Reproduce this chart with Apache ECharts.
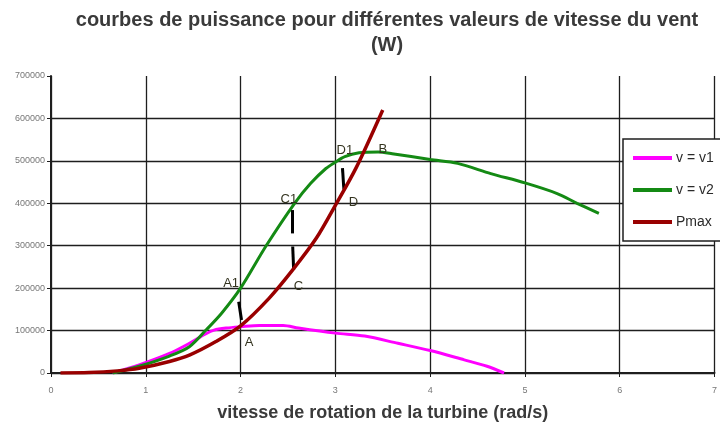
<!DOCTYPE html>
<html>
<head>
<meta charset="utf-8">
<script src="https://cdn.jsdelivr.net/npm/echarts@6/dist/echarts.min.js"></script>
<style>
  html, body { margin: 0; padding: 0; background: #fff; }
  #chart { width: 720px; height: 427px; }
</style>
</head>
<body>
<div id="chart"></div>
<script>
// Rotation speed (rad/s) and power (W) samples for each curve
const v1X = [0.65, 0.93, 1.25, 1.46, 1.63, 1.72, 1.85, 2.0, 2.2, 2.45, 2.61, 3.0, 3.31, 3.66, 4.0, 4.36, 4.6, 4.78];
const v1Y = [0, 19000, 46000, 70000, 92000, 101000, 106000, 109000, 112000, 112000, 106000, 94000, 87000, 70000, 53000, 31000, 16000, 0];

const v2X = [0.65, 0.93, 1.25, 1.46, 1.63, 1.8, 2.0, 2.27, 2.57, 2.74, 2.9, 3.0, 3.1, 3.25, 3.45, 3.6, 4.0, 4.29, 4.64, 5.0, 5.34, 5.55, 5.78];
const v2Y = [0, 16000, 40000, 62000, 100000, 141000, 200000, 300000, 400000, 447000, 482000, 497000, 510000, 519000, 521000, 517000, 503000, 494000, 470000, 448000, 423000, 400000, 376000];

const pmaxX = [0.1, 0.4, 0.7, 0.93, 1.25, 1.46, 1.74, 2.0, 2.3, 2.55, 2.8, 3.0, 3.22, 3.5];
const pmaxY = [0, 1000, 5000, 11000, 27000, 42000, 74000, 111000, 176000, 243000, 318000, 395000, 484000, 620000];

// Vertical jumps between operating points
const jumpSegments = [
  [[1.98, 168000], [2.01, 125000]],
  [[2.55, 384000], [2.55, 329000]],
  [[2.55, 298000], [2.56, 243000]],
  [[3.075, 483000], [3.09, 433000]]
];

// Operating point labels
const pointNames = ['A1', 'A', 'C1', 'C', 'D1', 'D', 'B'];
const pointX = [1.90, 2.09, 2.51, 2.61, 3.10, 3.19, 3.50];
const pointY = [210000, 71000, 408000, 203000, 525000, 401000, 527000];

const seriesNames = ['v = v1', 'v = v2', 'Pmax'];
const xTicks = { min: 0, max: 7, interval: 1 };
const yTicks = { min: 0, max: 700000, interval: 100000 };

const zip = (xs, ys) => xs.map((x, i) => [x, ys[i]]);

const chart = echarts.init(document.getElementById('chart'), null, { renderer: 'canvas' });

const gridColor = '#1e1e1e';
const font = 'Liberation Sans, Arial, sans-serif';
const curveSmooth = 0.3;

chart.setOption({
  backgroundColor: '#ffffff',
  animation: false,
  title: {
    text: 'courbes de puissance pour différentes valeurs de vitesse du vent\n(W)',
    left: 387,
    top: 8,
    padding: 0,
    textAlign: 'center',
    textStyle: {
      fontFamily: font,
      fontSize: 20,
      fontWeight: 'bold',
      color: '#3a3a3a',
      lineHeight: 25
    }
  },
  grid: { left: 51, right: 2, top: 76, bottom: 54, containLabel: false },
  legend: {
    data: seriesNames,
    orient: 'vertical',
    left: 623,
    top: 139,
    icon: 'rect',
    itemWidth: 39,
    itemHeight: 4,
    itemGap: 18,
    padding: [12, 10, 12, 10],
    backgroundColor: '#ffffff',
    borderColor: '#1e1e1e',
    borderWidth: 1.5,
    textStyle: { fontFamily: font, fontSize: 14, color: '#2a2a2a', padding: [0, 0, 0, -1] }
  },
  xAxis: {
    type: 'value',
    min: xTicks.min,
    max: xTicks.max,
    interval: xTicks.interval,
    name: 'vitesse de rotation de la turbine (rad/s)',
    nameLocation: 'middle',
    nameGap: 31,
    nameTextStyle: { fontFamily: font, fontSize: 18, fontWeight: 'bold', color: '#3a3a3a' },
    axisLine: { show: true, lineStyle: { color: '#1e1e1e', width: 2 } },
    axisTick: { show: true, length: 4, lineStyle: { color: '#1e1e1e' } },
    axisLabel: { fontFamily: font, fontSize: 9, color: '#777', margin: 13 },
    splitLine: { show: true, lineStyle: { color: gridColor, width: 1.3 } }
  },
  yAxis: {
    type: 'value',
    min: yTicks.min,
    max: yTicks.max,
    interval: yTicks.interval,
    axisLine: { show: true, lineStyle: { color: '#1e1e1e', width: 2 } },
    axisTick: { show: true, length: 4, lineStyle: { color: '#1e1e1e' } },
    axisLabel: { fontFamily: font, fontSize: 9, color: '#777', margin: 6, formatter: v => String(v) },
    splitLine: {
      show: true,
      lineStyle: {
        width: 1.3,
        color: [gridColor, gridColor, gridColor, gridColor, gridColor, gridColor, gridColor, 'rgba(0,0,0,0)']
      }
    }
  },
  series: [
    {
      name: seriesNames[0],
      type: 'line',
      data: zip(v1X, v1Y),
      smooth: curveSmooth,
      showSymbol: false,
      color: '#ff00ff',
      lineStyle: { width: 3, color: '#ff00ff' },
      z: 3
    },
    {
      name: seriesNames[1],
      type: 'line',
      data: zip(v2X, v2Y),
      smooth: curveSmooth,
      showSymbol: false,
      color: '#148a14',
      lineStyle: { width: 3, color: '#148a14' },
      z: 4
    },
    {
      name: seriesNames[2],
      type: 'line',
      data: zip(pmaxX, pmaxY),
      smooth: curveSmooth,
      showSymbol: false,
      color: '#990000',
      lineStyle: { width: 3.5, color: '#990000' },
      z: 5,
      markLine: {
        silent: true,
        symbol: ['none', 'none'],
        label: { show: false },
        lineStyle: { color: '#000', width: 3, type: 'solid' },
        data: jumpSegments.map(seg => [{ coord: seg[0] }, { coord: seg[1] }])
      },
      markPoint: {
        silent: true,
        symbol: 'circle',
        symbolSize: 1,
        itemStyle: { color: 'rgba(0,0,0,0)' },
        label: {
          show: true,
          position: 'inside',
          formatter: '{b}',
          fontFamily: font,
          fontSize: 13,
          color: '#33331f'
        },
        data: pointNames.map((n, i) => ({ name: n, coord: [pointX[i], pointY[i]] }))
      }
    }
  ]
});
</script>
</body>
</html>
